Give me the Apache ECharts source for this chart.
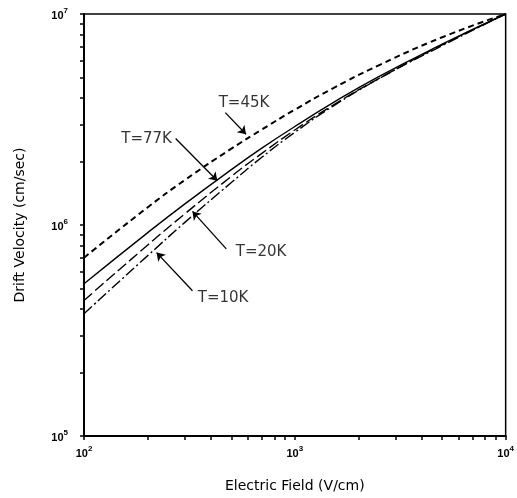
<!DOCTYPE html>
<html>
<head>
<meta charset="utf-8">
<script src="https://cdn.jsdelivr.net/npm/echarts@6/dist/echarts.min.js"></script>
<style>
html,body{margin:0;padding:0;background:#fff;}
#driftChart{width:517px;height:498px;}
</style>
</head>
<body>
<div id="driftChart"></div>
<script>
// 电场强度 (V/cm)
var fieldVals = [100, 200, 300, 500, 700, 1000, 1500, 2500, 5000, 10000];
// 漂移速度 (cm/sec)
var v45 = [7.0e5, 1.21e6, 1.63e6, 2.30e6, 2.84e6, 3.52e6, 4.42e6, 5.71e6, 7.76e6, 1.0e7];
var v77 = [5.27e5, 9.18e5, 1.256e6, 1.83e6, 2.32e6, 2.93e6, 3.77e6, 5.05e6, 7.19e6, 1.0e7];
var v20 = [4.39e5, 8.02e5, 1.127e6, 1.70e6, 2.19e6, 2.82e6, 3.67e6, 4.94e6, 7.14e6, 1.0e7];
var v10 = [3.80e5, 7.14e5, 1.026e6, 1.59e6, 2.10e6, 2.75e6, 3.63e6, 4.93e6, 7.08e6, 1.0e7];

// 刻度
var xMajor = [100, 1000, 10000];
var yMajor = [1e5, 1e6, 1e7];
var xTicks = [100,200,300,400,500,600,700,800,900,1000,2000,3000,4000,5000,6000,7000,8000,9000,10000];
var yTicks = [1e5,2e5,3e5,4e5,5e5,6e5,7e5,8e5,9e5,1e6,2e6,3e6,4e6,5e6,6e6,7e6,8e6,9e6,1e7];

// 标注
var annoText = ['T=45K', 'T=77K', 'T=20K', 'T=10K'];
var annoPos  = [[574, 3.80e6], [198, 2.55e6], [692, 7.46e5], [457, 4.52e5]];
var annoFrom = [[468, 3.41e6], [272, 2.57e6], [473, 7.71e5], [327, 4.88e5]];
var annoTo   = [[587, 2.69e6], [429, 1.62e6], [327, 1.16e6], [221, 7.4e5]];

function pairs(ys){
    return fieldVals.map(function(x, i){ return [x, ys[i]]; });
}
function powLabel(v){
    var e = Math.round(Math.log(v) / Math.LN10);
    return '{b|10}{s|' + e + '}';
}
var powRich = {
    b: {fontSize: 11, fontWeight: 'bold', color: '#000', fontFamily: 'Liberation Sans', lineHeight: 14, verticalAlign: 'bottom'},
    s: {fontSize: 8, fontWeight: 'bold', color: '#000', fontFamily: 'Liberation Sans', lineHeight: 14, verticalAlign: 'top'}
};

var arrows = annoFrom.map(function(p, i){
    return [{coord: p}, {coord: annoTo[i]}];
});

var myChart = echarts.init(document.getElementById('driftChart'));
var option = {
    animation: false,
    backgroundColor: '#fff',
    grid: {
        left: 84, right: 9, top: 14, bottom: 60,
        show: true,
        borderColor: '#000',
        borderWidth: 1.5
    },
    xAxis: {
        type: 'log',
        logBase: 10,
        min: 100,
        max: 10000,
        name: 'Electric Field (V/cm)',
        nameLocation: 'middle',
        nameGap: 43,
        nameTextStyle: {fontSize: 14, color: '#000', fontFamily: 'DejaVu Sans'},
        axisLine: {lineStyle: {color: '#000', width: 2}},
        axisTick: {customValues: xTicks, length: 4, lineStyle: {color: '#000', width: 1.5}},
        axisLabel: {customValues: xMajor, formatter: powLabel, rich: powRich, margin: 9},
        splitLine: {show: false},
        minorTick: {show: false}
    },
    yAxis: {
        type: 'log',
        logBase: 10,
        min: 1e5,
        max: 1e7,
        name: 'Drift Velocity (cm/sec)',
        nameLocation: 'middle',
        nameGap: 57,
        nameTextStyle: {fontSize: 14, color: '#000', fontFamily: 'DejaVu Sans'},
        axisLine: {lineStyle: {color: '#000', width: 2}},
        axisTick: {customValues: yTicks, length: 4, lineStyle: {color: '#000', width: 1.5}},
        axisLabel: {customValues: yMajor, formatter: powLabel, rich: powRich, margin: 16},
        splitLine: {show: false},
        minorTick: {show: false}
    },
    series: [
        {
            name: 'T=45K',
            type: 'line',
            smooth: true,
            symbol: 'none',
            data: pairs(v45),
            lineStyle: {color: '#000', width: 2, type: [6, 4]}
        },
        {
            name: 'T=77K',
            type: 'line',
            smooth: true,
            symbol: 'none',
            data: pairs(v77),
            lineStyle: {color: '#000', width: 1.4, type: 'solid'},
            markLine: {
                silent: true,
                symbol: ['none', 'arrow'],
                symbolSize: 8,
                label: {show: false},
                lineStyle: {color: '#000', width: 1.3, type: 'solid'},
                data: arrows
            }
        },
        {
            name: 'T=20K',
            type: 'line',
            smooth: true,
            symbol: 'none',
            data: pairs(v20),
            lineStyle: {color: '#000', width: 1.4, type: [11, 4]}
        },
        {
            name: 'T=10K',
            type: 'line',
            smooth: true,
            symbol: 'none',
            data: pairs(v10),
            lineStyle: {color: '#000', width: 1.4, type: [11, 3, 2, 3]}
        },
        {
            name: 'labels',
            type: 'scatter',
            symbolSize: 0,
            silent: true,
            data: annoPos.map(function(p, i){ return [p[0], p[1], annoText[i]]; }),
            label: {
                show: true,
                position: 'inside',
                formatter: function(p){ return p.value[2]; },
                fontSize: 15,
                color: '#000',
                fontFamily: 'DejaVu Sans'
            }
        }
    ]
};
myChart.setOption(option);
</script>
</body>
</html>
